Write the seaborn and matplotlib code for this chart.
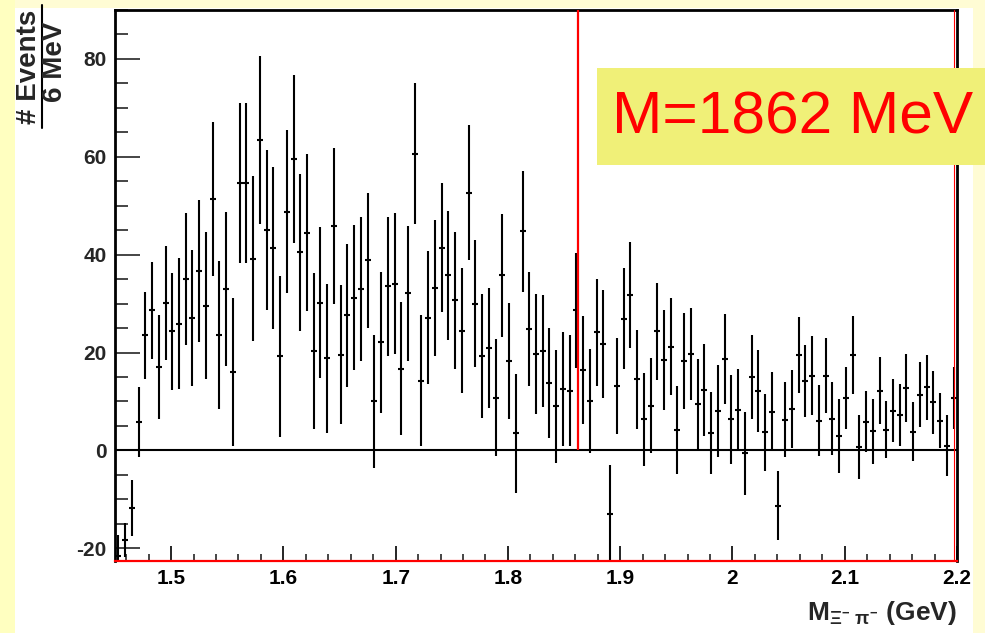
import numpy as np
import pandas as pd
import matplotlib
matplotlib.use("Agg")
import matplotlib.pyplot as plt
from matplotlib.patches import Rectangle
from matplotlib.lines import Line2D
from matplotlib.ticker import MultipleLocator, FixedLocator, FixedFormatter
import seaborn as sns

# Histogram binning: 6 MeV bins starting at 1.45 GeV
mass_lo = 1.45
bin_width = 0.006
n_bins = 125

# Events per bin (background-subtracted) and their errors
events = [
    -21.5, -18.3, -11.8, 5.8, 23.5, 28.6, 17.0, 30.1, 24.3, 25.9,
    35.0, 27.1, 36.7, 29.6, 51.4, 23.6, 33.0, 16.0, 54.6, 54.6,
    39.2, 63.5, 45.0, 41.4, 19.2, 48.8, 59.6, 40.5, 44.5, 20.3,
    30.2, 18.8, 45.9, 19.5, 27.6, 31.2, 33.0, 38.9, 10.0, 22.1,
    33.5, 34.1, 16.7, 32.1, 60.6, 14.2, 27.1, 33.2, 41.4, 35.8,
    30.7, 24.5, 52.7, 30.0, 19.3, 20.9, 10.8, 35.8, 18.3, 3.5,
    44.8, 24.8, 19.7, 20.3, 13.8, 9.0, 12.5, 12.2, 28.6, 16.4,
    10.1, 24.1, 21.7, -13.0, 13.1, 26.9, 31.8, 14.5, 6.4, 9.1,
    24.3, 18.4, 21.2, 4.1, 18.3, 19.8, 9.4, 12.3, 3.5, 8.0,
    18.7, 6.4, 8.3, -0.6, 15.0, 12.2, 3.7, 7.9, -11.3, 6.3,
    8.5, 19.5, 14.2, 15.3, 6.1, 15.3, 6.5, 2.9, 10.7, 19.5,
    0.7, 5.9, 3.9, 12.2, 4.2, 8.1, 7.2, 12.8, 3.8, 11.4,
    12.9, 9.8, 6.1, 1.0, 10.7,
]
errors = [
    4.3, 3.5, 5.7, 7.2, 8.9, 10.0, 10.6, 11.6, 11.9, 13.4,
    13.5, 13.9, 14.5, 15.0, 15.8, 15.2, 15.7, 15.2, 16.4, 16.4,
    16.8, 17.2, 16.4, 16.6, 16.4, 16.6, 17.2, 16.0, 16.0, 16.0,
    15.5, 15.2, 16.0, 14.2, 14.6, 14.8, 14.7, 13.8, 13.6, 14.4,
    14.2, 14.4, 13.6, 13.8, 14.4, 13.4, 13.6, 13.9, 13.2, 13.2,
    14.0, 12.7, 13.7, 13.0, 12.6, 12.3, 12.0, 12.6, 11.9, 12.2,
    12.4, 11.6, 12.2, 11.5, 11.2, 11.6, 11.7, 11.4, 11.8, 11.1,
    10.7, 11.0, 11.0, 10.1, 9.8, 10.3, 10.8, 10.2, 9.5, 9.7,
    10.0, 10.2, 9.9, 9.0, 9.8, 9.4, 9.2, 9.4, 8.4, 9.4,
    9.2, 9.1, 8.3, 8.5, 8.5, 8.4, 7.9, 8.1, 7.0, 7.7,
    8.0, 7.8, 7.3, 8.0, 7.2, 7.6, 7.5, 7.6, 6.4, 8.0,
    6.5, 6.3, 6.6, 6.9, 5.8, 6.4, 6.4, 7.0, 6.0, 6.6,
    6.6, 6.4, 5.7, 6.2, 6.3,
]

x_ticks = [1.5, 1.6, 1.7, 1.8, 1.9, 2.0, 2.1, 2.2]
x_tick_labels = ["1.5", "1.6", "1.7", "1.8", "1.9", "2", "2.1", "2.2"]
y_ticks = [-20, 0, 20, 40, 60, 80]
y_tick_labels = ["-20", "0", "20", "40", "60", "80"]
peak_mass = 1.862
peak_text = "M=1862 MeV"

centers = mass_lo + bin_width * (np.arange(n_bins) + 0.5)
df = pd.DataFrame({"mass": centers, "events": events, "err": errors})

W, H = 985, 633
sns.set_theme(style="ticks")
plt.rcParams["font.family"] = ["Liberation Sans", "DejaVu Sans"]
plt.rcParams["axes.unicode_minus"] = False
plt.rcParams["mathtext.fontset"] = "custom"
plt.rcParams["mathtext.rm"] = "Liberation Sans:bold"
plt.rcParams["mathtext.bf"] = "Liberation Sans:bold"
plt.rcParams["mathtext.it"] = "Liberation Sans:bold"

fig = plt.figure(figsize=(W / 100, H / 100), dpi=100)
fig.patch.set_facecolor("#fffcd4")

def fx(px):
    return px / W

def fy(py):
    return 1 - py / H

# white pad and a brighter strip at the left edge
fig.patches.append(Rectangle((fx(15), 0), fx(973) - fx(15), fy(8), transform=fig.transFigure,
                             facecolor="white", edgecolor="none", zorder=-10))
fig.patches.append(Rectangle((0, 0), fx(15), 1, transform=fig.transFigure,
                             facecolor="#ffffc0", edgecolor="none", zorder=-10))

ax = fig.add_axes([fx(115), fy(561), fx(957) - fx(115), fy(10) - fy(561)])
ax.set_facecolor("white")

lw = 1.5
ax.axhline(0, color="black", lw=lw, zorder=1)
ax.vlines(peak_mass, 0, 90, color="red", lw=1.6, zorder=3)

ax.errorbar(df["mass"], df["events"], yerr=df["err"], fmt="none",
            ecolor="black", elinewidth=lw, capsize=0, zorder=2)
sns.scatterplot(data=df, x="mass", y="events", marker="_", s=17,
                linewidth=lw, color="black", ax=ax, zorder=2, legend=False)

ax.set_xlim(1.45, 2.2)
ax.set_ylim(-22.6, 90)
ax.set_xlabel("")
ax.set_ylabel("")

ax.xaxis.set_major_locator(FixedLocator(x_ticks))
ax.xaxis.set_major_formatter(FixedFormatter(x_tick_labels))
ax.xaxis.set_minor_locator(MultipleLocator(0.02))
ax.yaxis.set_major_locator(FixedLocator(y_ticks))
ax.yaxis.set_major_formatter(FixedFormatter(y_tick_labels))
ax.yaxis.set_minor_locator(MultipleLocator(5))

ax.tick_params(axis="x", which="major", direction="in", length=11, width=1.2,
               pad=6, labelsize=15, colors="black")
ax.tick_params(axis="x", which="minor", direction="in", length=5, width=1.2)
ax.tick_params(axis="y", which="major", direction="in", length=18, width=1.2,
               pad=6, labelsize=15)
ax.tick_params(axis="y", which="minor", direction="in", length=9, width=1.2)
ax.tick_params(top=False, right=False, which="both")
for lab in ax.get_xticklabels() + ax.get_yticklabels():
    lab.set_fontweight("bold")

for side in ["top", "left", "right"]:
    ax.spines[side].set_color("black")
    ax.spines[side].set_linewidth(2)
ax.spines["bottom"].set_color("red")
ax.spines["bottom"].set_linewidth(1.6)
ax.plot([0.997, 0.997], [0, 1], transform=ax.transAxes, color="red", lw=0.8,
        clip_on=False, zorder=4)

# axis titles
fig.text(fx(957), fy(613), r"$\mathbf{M}_{\Xi^{-}\ \pi^{-}}$ (GeV)", ha="right",
         va="center", fontsize=19, fontweight="bold")
fig.text(fx(29), fy(67), "# Events", rotation=90, ha="center", va="center",
         fontsize=20, fontweight="bold")
fig.text(fx(55), fy(62), "6 MeV", rotation=90, ha="center", va="center",
         fontsize=20, fontweight="bold")
fig.lines.append(Line2D([fx(42), fx(42)], [fy(5), fy(128)], transform=fig.transFigure,
                        color="black", lw=1.5))

# mass annotation box, running off the right edge of the page
fig.patches.append(Rectangle((fx(597), fy(165)), 1 - fx(597), fy(68) - fy(165),
                             transform=fig.transFigure, facecolor="#f0f078",
                             edgecolor="none", zorder=5))
fig.text(fx(612), fy(118), peak_text, ha="left", va="center", fontsize=43.5,
         color="red", zorder=6)

fig.savefig("out.png", dpi=100, facecolor=fig.get_facecolor())
